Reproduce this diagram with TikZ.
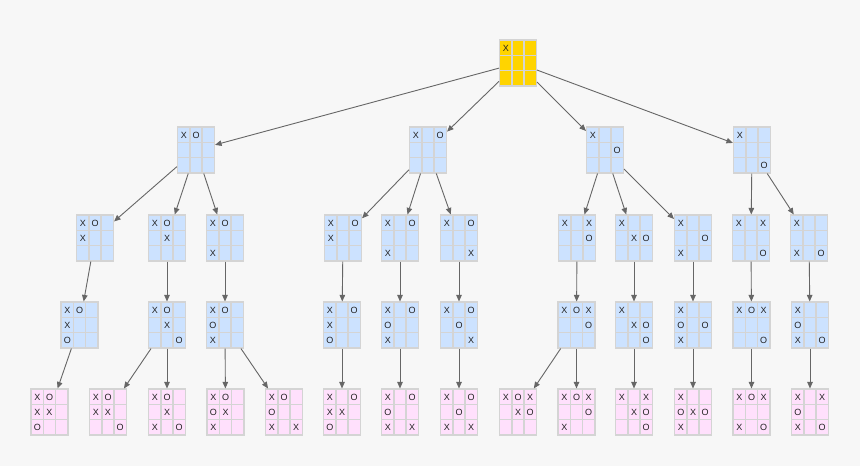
\documentclass[tikz,border=0pt]{standalone}
\usepackage{fontspec}
\setmainfont{Liberation Sans}
\usetikzlibrary{matrix,arrows.meta}
\definecolor{bgcol}{HTML}{F7F7F7}
\definecolor{gridcol}{HTML}{D4D4D4}
\definecolor{bluecell}{HTML}{CCE2FF}
\definecolor{pinkcell}{HTML}{FFE0FC}
\definecolor{goldcell}{HTML}{FFD400}
\definecolor{edgecol}{HTML}{666666}
\definecolor{markcol}{HTML}{222222}
\tikzset{
  board/.style={matrix of nodes, nodes in empty cells, inner sep=0pt, outer sep=0pt,
    column sep=-1.5pt, row sep=-1.5pt,
    nodes={draw=gridcol, line width=1.5pt, fill=#1, minimum width=12.2pt,
      minimum height=15.2pt, inner sep=0pt, anchor=center, text=markcol,
      text height=6.5pt, text depth=0pt, text width=8pt, align=center,
      font=\fontsize{9}{10}\selectfont}},
  board/.default=bluecell,
  move/.style={draw=edgecol, line width=0.9pt, -{Triangle[length=6.5pt,width=5.5pt]}},
}
\begin{document}
\begin{tikzpicture}[x=1pt, y=-1pt]
  \fill[bgcol] (0,0) rectangle (860,466);
  \useasboundingbox (0,0) rectangle (860,466);
  \matrix (r) [board=goldcell] at (518,63) {X & & \\ & & \\ & & \\};
  \matrix (a1) [board] at (196,150) {X & O & \\ & & \\ & & \\};
  \matrix (a2) [board] at (428,150) {X & & O \\ & & \\ & & \\};
  \matrix (a3) [board] at (605,150) {X & & \\ & & O \\ & & \\};
  \matrix (a4) [board] at (752,150) {X & & \\ & & \\ & & O \\};
  \matrix (b1) [board] at (95,238) {X & O & \\ X & & \\ & & \\};
  \matrix (b2) [board] at (167,238) {X & O & \\ & X & \\ & & \\};
  \matrix (b3) [board] at (225,238) {X & O & \\ & & \\ X & & \\};
  \matrix (b4) [board] at (343,238) {X & & O \\ X & & \\ & & \\};
  \matrix (b5) [board] at (400,238) {X & & O \\ & & \\ X & & \\};
  \matrix (b6) [board] at (459,238) {X & & O \\ & & \\ & & X \\};
  \matrix (b7) [board] at (577,238) {X & & X \\ & & O \\ & & \\};
  \matrix (b8) [board] at (634,238) {X & & \\ & X & O \\ & & \\};
  \matrix (b9) [board] at (693,238) {X & & \\ & & O \\ X & & \\};
  \matrix (b10) [board] at (751,238) {X & & X \\ & & \\ & & O \\};
  \matrix (b11) [board] at (809,238) {X & & \\ & & \\ X & & O \\};
  \matrix (c1) [board] at (79.5,325) {X & O & \\ X & & \\ O & & \\};
  \matrix (c2) [board] at (167,325) {X & O & \\ & X & \\ & & O \\};
  \matrix (c3) [board] at (225,325) {X & O & \\ O & & \\ X & & \\};
  \matrix (c4) [board] at (342,325) {X & & O \\ X & & \\ O & & \\};
  \matrix (c5) [board] at (400,325) {X & & O \\ O & & \\ X & & \\};
  \matrix (c6) [board] at (459,325) {X & & O \\ & O & \\ & & X \\};
  \matrix (c7) [board] at (576.5,325) {X & O & X \\ & & O \\ & & \\};
  \matrix (c8) [board] at (634,325) {X & & \\ & X & O \\ & & O \\};
  \matrix (c9) [board] at (693,325) {X & & \\ O & & O \\ X & & \\};
  \matrix (c10) [board] at (751.5,325) {X & O & X \\ & & \\ & & O \\};
  \matrix (c11) [board] at (810,325) {X & & \\ O & & \\ X & & O \\};
  \matrix (d1) [board=pinkcell] at (49.5,412) {X & O & \\ X & X & \\ O & & \\};
  \matrix (d2) [board=pinkcell] at (108,412) {X & O & \\ X & X & \\ & & O \\};
  \matrix (d3) [board=pinkcell] at (167,412) {X & O & \\ & X & \\ X & & O \\};
  \matrix (d4) [board=pinkcell] at (225.5,412) {X & O & \\ O & X & \\ X & & \\};
  \matrix (d5) [board=pinkcell] at (284,412) {X & O & \\ O & & \\ X & & X \\};
  \matrix (d6) [board=pinkcell] at (342,412) {X & & O \\ X & X & \\ O & & \\};
  \matrix (d7) [board=pinkcell] at (400,412) {X & & O \\ O & & \\ X & & X \\};
  \matrix (d8) [board=pinkcell] at (459,412) {X & & O \\ & O & \\ X & & X \\};
  \matrix (d9) [board=pinkcell] at (518,412) {X & O & X \\ & X & O \\ & & \\};
  \matrix (d10) [board=pinkcell] at (576.5,412) {X & O & X \\ & & O \\ X & & \\};
  \matrix (d11) [board=pinkcell] at (634,412) {X & & X \\ & X & O \\ & & O \\};
  \matrix (d12) [board=pinkcell] at (693,412) {X & & \\ O & X & O \\ X & & \\};
  \matrix (d13) [board=pinkcell] at (751.5,412) {X & O & X \\ & & \\ X & & O \\};
  \matrix (d14) [board=pinkcell] at (810,412) {X & & X \\ O & & \\ X & & O \\};
  \draw[move] (r) -- (a1);
  \draw[move] (r) -- (a2);
  \draw[move] (r) -- (a3);
  \draw[move] (r) -- (a4);
  \draw[move] (a1) -- (b1);
  \draw[move] (a1) -- (b2);
  \draw[move] (a1) -- (b3);
  \draw[move] (a2) -- (b4);
  \draw[move] (a2) -- (b5);
  \draw[move] (a2) -- (b6);
  \draw[move] (a3) -- (b7);
  \draw[move] (a3) -- (b8);
  \draw[move] (a3) -- (b9);
  \draw[move] (a4) -- (b10);
  \draw[move] (a4) -- (b11);
  \draw[move] (b1) -- (c1);
  \draw[move] (b2) -- (c2);
  \draw[move] (b3) -- (c3);
  \draw[move] (b4) -- (c4);
  \draw[move] (b5) -- (c5);
  \draw[move] (b6) -- (c6);
  \draw[move] (b7) -- (c7);
  \draw[move] (b8) -- (c8);
  \draw[move] (b9) -- (c9);
  \draw[move] (b10) -- (c10);
  \draw[move] (b11) -- (c11);
  \draw[move] (c1) -- (d1);
  \draw[move] (c2) -- (d2);
  \draw[move] (c2) -- (d3);
  \draw[move] (c3) -- (d4);
  \draw[move] (c3) -- (d5);
  \draw[move] (c4) -- (d6);
  \draw[move] (c5) -- (d7);
  \draw[move] (c6) -- (d8);
  \draw[move] (c7) -- (d9);
  \draw[move] (c7) -- (d10);
  \draw[move] (c8) -- (d11);
  \draw[move] (c9) -- (d12);
  \draw[move] (c10) -- (d13);
  \draw[move] (c11) -- (d14);
\end{tikzpicture}
\end{document}
